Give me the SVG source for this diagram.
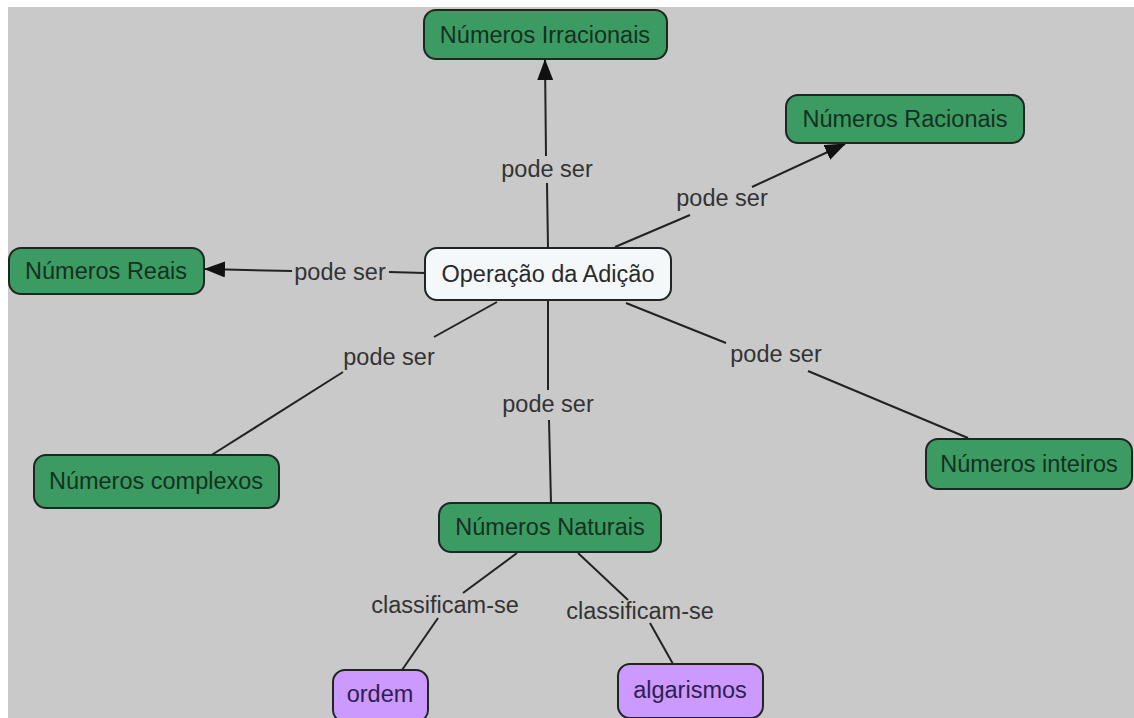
<svg xmlns="http://www.w3.org/2000/svg" width="1134" height="718" viewBox="0 0 1134 718">
  <defs>
    <style>
      .bg { fill: #c9c9c9; }
      .node rect { stroke: #1f2622; stroke-width: 2; }
      .green rect { fill: #3c9b63; }
      .white rect { fill: #f4f8fa; }
      .purple rect { fill: #cc99ff; }
      .node text { font-family: "Liberation Sans", Arial, sans-serif; font-size: 23.5px; text-anchor: middle; }
      .green text { fill: #14311f; }
      .white text { fill: #2a2a2a; }
      .purple text { fill: #2e2050; }
      .conn line { stroke: #222; stroke-width: 2; fill: none; }
      .lbl { font-family: "Liberation Sans", Arial, sans-serif; font-size: 23.5px; fill: #333; text-anchor: middle; }
    </style>
    <marker id="arrow" markerUnits="userSpaceOnUse" markerWidth="21" markerHeight="16" viewBox="0 0 21 16" refX="20" refY="8" orient="auto">
      <path d="M0,0 L21,8 L0,16 z" fill="#111"/>
    </marker>
  </defs>

  <rect x="0" y="0" width="1134" height="718" fill="#ffffff"/>
  <rect class="bg" x="8" y="7" width="1126" height="711"/>

  <g id="connectors" class="conn">
    <!-- Adição -> Irracionais -->
    <line x1="548" y1="248" x2="547" y2="183"/>
    <line x1="546" y1="156" x2="545" y2="60" marker-end="url(#arrow)"/>
    <!-- Adição -> Racionais -->
    <line x1="615" y1="247" x2="690" y2="215"/>
    <line x1="752" y1="187" x2="845" y2="144" marker-end="url(#arrow)"/>
    <!-- Adição -> Reais -->
    <line x1="425" y1="273" x2="389" y2="272"/>
    <line x1="292" y1="271" x2="205" y2="269" marker-end="url(#arrow)"/>
    <!-- Adição - complexos -->
    <line x1="497" y1="302" x2="434" y2="337"/>
    <line x1="343" y1="372" x2="210" y2="456"/>
    <!-- Adição - Naturais -->
    <line x1="548" y1="300" x2="548" y2="390"/>
    <line x1="549" y1="420" x2="551" y2="503"/>
    <!-- Adição - inteiros -->
    <line x1="626" y1="303" x2="726" y2="343"/>
    <line x1="808" y1="371" x2="968" y2="438"/>
    <!-- Naturais - ordem -->
    <line x1="517" y1="553" x2="463" y2="593"/>
    <line x1="438" y1="618" x2="402" y2="670"/>
    <!-- Naturais - algarismos -->
    <line x1="578" y1="553" x2="628" y2="600"/>
    <line x1="650" y1="623" x2="673" y2="664"/>
  </g>

  <g id="labels">
    <text class="lbl" x="547" y="177">pode ser</text>
    <text class="lbl" x="722" y="206">pode ser</text>
    <text class="lbl" x="340" y="280">pode ser</text>
    <text class="lbl" x="389" y="365">pode ser</text>
    <text class="lbl" x="548" y="412">pode ser</text>
    <text class="lbl" x="776" y="362">pode ser</text>
    <text class="lbl" x="445" y="613">classificam-se</text>
    <text class="lbl" x="640" y="619">classificam-se</text>
  </g>

  <g id="n-irracionais" class="node green">
    <rect x="424" y="10" width="243" height="49" rx="12"/>
    <text x="545" y="43">Números Irracionais</text>
  </g>
  <g id="n-racionais" class="node green">
    <rect x="786" y="95" width="238" height="48" rx="12"/>
    <text x="905" y="127">Números Racionais</text>
  </g>
  <g id="n-reais" class="node green">
    <rect x="9" y="248" width="195" height="46" rx="12"/>
    <text x="106" y="279">Números Reais</text>
  </g>
  <g id="n-adicao" class="node white">
    <rect x="425" y="248" width="246" height="52" rx="12"/>
    <text x="548" y="282">Operação da Adição</text>
  </g>
  <g id="n-complexos" class="node green">
    <rect x="34" y="455" width="245" height="53" rx="12"/>
    <text x="156" y="489">Números complexos</text>
  </g>
  <g id="n-inteiros" class="node green">
    <rect x="926" y="439" width="206" height="50" rx="12"/>
    <text x="1029" y="472">Números inteiros</text>
  </g>
  <g id="n-naturais" class="node green">
    <rect x="439" y="503" width="222" height="49" rx="12"/>
    <text x="550" y="535">Números Naturais</text>
  </g>
  <g id="n-ordem" class="node purple">
    <rect x="333" y="670" width="95" height="52" rx="12"/>
    <text x="380" y="702">ordem</text>
  </g>
  <g id="n-algarismos" class="node purple">
    <rect x="618" y="664" width="145" height="54" rx="12"/>
    <text x="690" y="698">algarismos</text>
  </g>
</svg>
